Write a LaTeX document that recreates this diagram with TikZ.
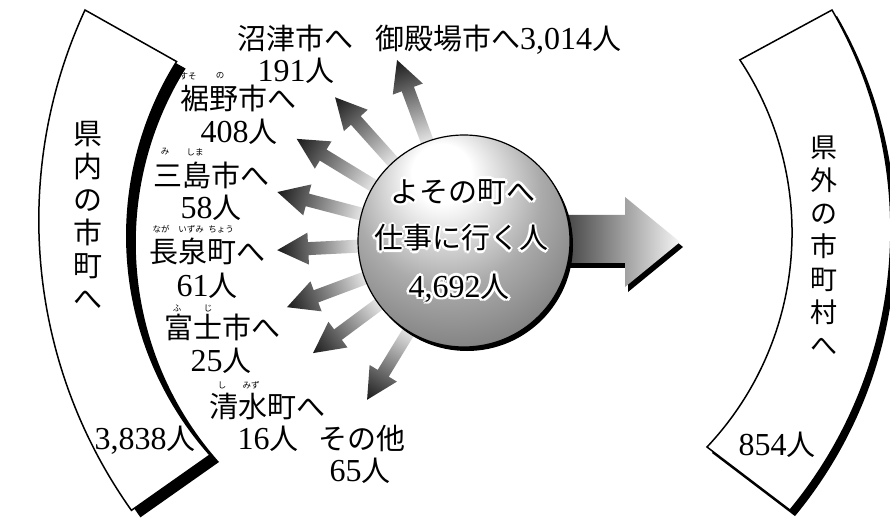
\documentclass[tikz,border=0pt]{standalone}
\usepackage{fontspec}
\setmainfont{Liberation Serif}
\newfontfamily\jp{Noto Sans CJK JP}
\usetikzlibrary{calc}
\pgfdeclareradialshading{sphereshade}{\pgfpoint{-6bp}{18bp}}{color(0bp)=(white); color(7bp)=(white); color(22bp)=(black!33); color(38bp)=(black!55); color(60bp)=(black!65)}
\newsavebox\glowb
\newcommand\gc[2]{\rlap{\kern#1\raisebox{#2}{\copy\glowb}}}
\newcommand\glow[1]{\setbox\glowb\hbox{#1}\leavevmode\rlap{\color{white}\gc{2.6pt}{0pt}\gc{-2.6pt}{0pt}\gc{0pt}{2.6pt}\gc{0pt}{-2.6pt}\gc{1.85pt}{1.85pt}\gc{-1.85pt}{1.85pt}\gc{1.85pt}{-1.85pt}\gc{-1.85pt}{-1.85pt}}\copy\glowb}
\newcommand\N[1]{{\rmfamily\fontsize{32}{32}\selectfont #1}}
\newcommand\ray[2]{%
  \begin{scope}[transform canvas={shift={(C)},rotate=#1}]
    \shade[left color=black!3, right color=black!90]
      (98,-6.5) -- (#2-31,-6.5) -- (#2-31,-16) -- (#2,0) -- (#2-31,16) -- (#2-31,6.5) -- (98,6.5) -- cycle;
  \end{scope}}
\begin{document}
\begin{tikzpicture}[x=1pt,y=-1pt,
  lab/.style={font=\jp\fontsize{29}{33}\selectfont, inner sep=0pt},
  ruby/.style={font=\jp\fontsize{8.5}{9}\selectfont, inner sep=0pt},
  vt/.style={font=\jp\fontsize{29}{33}\selectfont, inner sep=0pt, align=center},
  spt/.style={font=\jp\fontsize{29}{33}\selectfont, inner sep=0pt},
  band/.style={fill=white, draw=black, line width=1.5pt, line join=miter}]
\useasboundingbox (0,0) rectangle (890,518);
\fill[white] (0,0) rectangle (890,518);
\coordinate (C) at (464,241);
% left band
\begin{scope}[shift={(9,7)}]
\fill[black] (85,10) arc[start angle=204.8,end angle=144.6,radius=501] -- (210,455) arc[start angle=138.4,end angle=211.9,radius=330] -- cycle;
\end{scope}
\draw[band] (85,10) arc[start angle=204.8,end angle=144.6,radius=501] -- (210,455) arc[start angle=138.4,end angle=211.9,radius=330] -- cycle;
% right band
\begin{scope}[shift={(5,6)}]
\fill[black] (832,10) arc[start angle=-30,end angle=39.6,radius=439.7] -- (707,447) arc[start angle=43.3,end angle=-33.6,radius=312.4] -- cycle;
\end{scope}
\draw[band] (832,10) arc[start angle=-30,end angle=39.6,radius=439.7] -- (707,447) arc[start angle=43.3,end angle=-33.6,radius=312.4] -- cycle;
% rays
\ray{110.3}{193}
\ray{131.9}{193}
\ray{148.6}{196}
\ray{165.3}{193}
\ray{182.8}{187}
\ray{200.5}{189}
\ray{216.6}{188}
\ray{238.6}{186}
% big arrow
\fill[black] (543,220) -- (628,220) -- (628,202) -- (683,247) -- (628,292) -- (628,268) -- (543,268) -- cycle;
\shade[left color=black!88, right color=black!4] (540,215) -- (625,215) -- (625,197) -- (680,242) -- (625,287) -- (625,263) -- (540,263) -- cycle;
% sphere
\fill[black] (467,245) circle[radius=106];
\shade[shading=sphereshade] (C) circle[radius=106];
\draw[line width=1.2pt] (C) circle[radius=106];
\node[spt] (s1) at (463,192) {\glow{よその町へ}};
\node[spt] (s2) at (461,238) {\glow{仕事に行く人}};
\node[spt] (s3) at (459,288) {\glow{\N{4,692}人}};
% band texts
\node[vt] (inT) at (88,215) {県\\内\\の\\市\\町\\へ};
\node[lab] (inN) at (145,440) {\N{3,838}人};
\node[vt, font=\jp\fontsize{27}{33}\selectfont] (outT) at (824,246) {県\\外\\の\\市\\町\\村\\へ};
\node[lab] (outN) at (777,445) {\N{854}人};
% labels
\node[lab] (numazu) at (295,38) {沼津市へ};
\node[lab] (numazuN) at (296,71) {\N{191}人};
\node[lab] (gotemba) at (498,40) {御殿場市へ\N{3,014}人};
\node[lab] (susono) at (238,98) {裾野市へ};
\node[ruby] (r1) at (188,76) {すそ};
\node[ruby] (r2) at (220,76) {の};
\node[lab] (susonoN) at (239,132) {\N{408}人};
\node[lab] (mishima) at (211,175) {三島市へ};
\node[ruby] (r3) at (165,152) {み};
\node[ruby] (r4) at (195,152) {しま};
\node[lab] (mishimaN) at (211,208) {\N{58}人};
\node[lab] (naga) at (207,251) {長泉町へ};
\node[ruby] (r5) at (161,229) {なが};
\node[ruby] (r6) at (191,229) {いずみ};
\node[ruby] (r7) at (221,229) {ちょう};
\node[lab] (nagaN) at (207,286) {\N{61}人};
\node[lab] (fuji) at (222,327) {富士市へ};
\node[ruby] (r8) at (177,308) {ふ};
\node[ruby] (r9) at (208,308) {じ};
\node[lab] (fujiN) at (221,361) {\N{25}人};
\node[lab] (shimizu) at (267,406) {清水町へ};
\node[ruby] (r10) at (222,385) {し};
\node[ruby] (r11) at (251,385) {みず};
\node[lab] (shimizuN) at (268,439) {\N{16}人};
\node[lab] (other) at (362,438) {その他};
\node[lab] (otherN) at (360,471) {\N{65}人};
\end{tikzpicture}
\end{document}
